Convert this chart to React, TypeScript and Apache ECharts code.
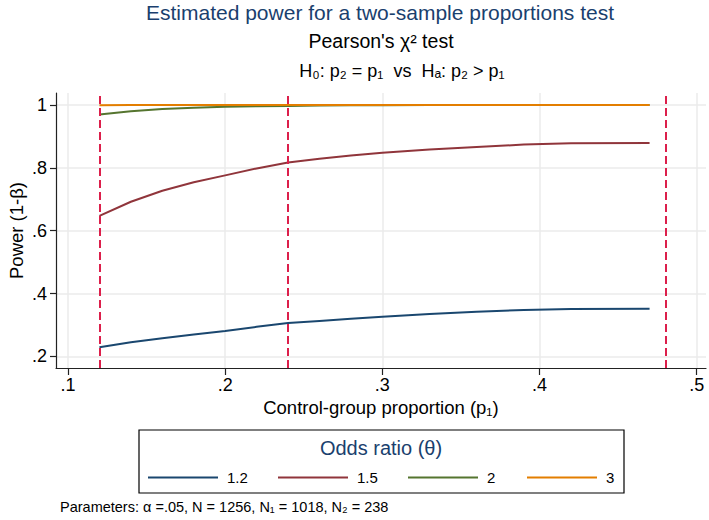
import React, { useEffect, useRef } from "react";
import * as echarts from "echarts";

const pValues = [0.12, 0.14, 0.16, 0.18, 0.2, 0.22, 0.24, 0.26, 0.28, 0.3, 0.33, 0.36, 0.39, 0.42, 0.47];
const power12 = [0.229, 0.245, 0.258, 0.27, 0.281, 0.294, 0.306, 0.313, 0.32, 0.326, 0.335, 0.342, 0.348, 0.351, 0.352];
const power15 = [0.647, 0.692, 0.727, 0.754, 0.776, 0.798, 0.817, 0.829, 0.839, 0.848, 0.858, 0.866, 0.874, 0.878, 0.879];
const power2 = [0.97, 0.98, 0.987, 0.991, 0.994, 0.996, 0.997, 0.998, 0.999, 0.999, 1.0, 1.0, 1.0, 1.0, 1.0];
const power3 = [0.9995, 1.0, 1.0, 1.0, 1.0, 1.0, 1.0, 1.0, 1.0, 1.0, 1.0, 1.0, 1.0, 1.0, 1.0];
const oddsRatios = ["1.2", "1.5", "2", "3"];
const seriesColors = ["#1a476f", "#90353b", "#55752f", "#e37e00"];
const refLines = [0.1193, 0.2385, 0.4768];
const xTicks = [0.1, 0.2, 0.3, 0.4, 0.5];
const yTicks = [0.2, 0.4, 0.6, 0.8, 1];

const FONT = "'Liberation Sans', Arial, Helvetica, sans-serif";

function fmt(v: number): string {
  const s = String(Math.round(v * 10) / 10);
  return s.startsWith("0") ? s.slice(1) : s;
}

export default function App() {
  const ref = useRef<HTMLDivElement>(null);
  useEffect(() => {
    if (!ref.current) return;
    const chart = echarts.init(ref.current, undefined, { renderer: "svg" });
    const allData = [power12, power15, power2, power3];
    const legendLefts = [148, 278, 408, 527];
    const series: any[] = oddsRatios.map((name, i) => ({
      name,
      type: "line",
      symbol: "none",
      data: pValues.map((p, j) => [p, allData[i][j]]),
      itemStyle: { color: seriesColors[i] },
      lineStyle: { color: seriesColors[i], width: 2 },
      z: 3,
    }));
    series.push({
      name: "ref",
      type: "line",
      data: [],
      markLine: {
        silent: true,
        symbol: "none",
        label: { show: false },
        lineStyle: { color: "#dc1f4b", type: [8, 4], width: 2 },
        data: refLines.map((x) => ({ xAxis: x })),
      },
      z: 2,
    });
    chart.setOption({
      animation: false,
      backgroundColor: "#ffffff",
      title: [
        {
          text: "Estimated power for a two-sample proportions test",
          left: 380,
          top: 2,
          padding: 0,
          textAlign: "center",
          textStyle: { fontFamily: FONT, fontSize: 21, fontWeight: "normal", color: "#1a3f6e" },
        },
        {
          text: "Pearson's χ² test",
          left: 381,
          top: 31,
          padding: 0,
          textAlign: "center",
          textStyle: { fontFamily: FONT, fontSize: 19.5, fontWeight: "normal", color: "#000" },
        },
        {
          text: "H₀: p₂ = p₁  vs  Hₐ: p₂ > p₁",
          left: 402,
          top: 62,
          padding: 0,
          textAlign: "center",
          textStyle: { fontFamily: FONT, fontSize: 18, fontWeight: "normal", color: "#000" },
        },
      ],
      legend: oddsRatios.map((name, i) => ({
        data: [name],
        left: legendLefts[i],
        top: 470,
        padding: 0,
        icon: "rect",
        itemWidth: 70,
        itemHeight: 2,
        textStyle: { fontFamily: FONT, fontSize: 15, color: "#000", padding: [0, 0, 0, 4] },
        selectedMode: false,
      })),
      grid: {
        left: 56,
        right: 3,
        top: 93,
        bottom: 520 - 368,
        containLabel: false,
        outerBoundsMode: "none",
      },
      xAxis: {
        type: "value",
        min: 0.09237,
        max: 0.5059,
        name: "Control-group proportion (p₁)",
        nameLocation: "middle",
        nameGap: 30,
        nameMoveOverlap: false,
        nameTextStyle: { fontFamily: FONT, fontSize: 18.5, color: "#000" },
        axisLine: { show: true, onZero: false, lineStyle: { color: "#222", width: 1.2 } },
        axisTick: { show: true, length: 7, customValues: xTicks, lineStyle: { color: "#222", width: 1.2 } },
        axisLabel: {
          customValues: xTicks,
          formatter: (v: number) => fmt(v),
          fontFamily: FONT,
          fontSize: 18,
          color: "#000",
          margin: 8,
        },
        splitLine: { show: true, lineStyle: { color: "#ebebeb", width: 1.5 } },
      },
      yAxis: {
        type: "value",
        min: 0.1631,
        max: 1.0381,
        name: "Power (1-β)",
        nameLocation: "middle",
        nameGap: 30,
        nameMoveOverlap: false,
        nameRotate: 90,
        nameTextStyle: { fontFamily: FONT, fontSize: 18.5, color: "#000" },
        axisLine: { show: true, onZero: false, lineStyle: { color: "#222", width: 1.2 } },
        axisTick: { show: true, length: 6, customValues: yTicks, lineStyle: { color: "#222", width: 1.2 } },
        axisLabel: {
          customValues: yTicks,
          formatter: (v: number) => fmt(v),
          fontFamily: FONT,
          fontSize: 18,
          color: "#000",
          margin: 9,
        },
        splitLine: { show: true, lineStyle: { color: "#ebebeb", width: 1.5 } },
      },
      graphic: [
        {
          type: "rect",
          shape: { x: 139, y: 430, width: 485, height: 63 },
          style: { fill: "none", stroke: "#000", lineWidth: 1.2 },
          silent: true,
        },
        {
          type: "text",
          x: 381,
          y: 448,
          style: {
            text: "Odds ratio (θ)",
            fontFamily: FONT,
            fontSize: 20,
            fill: "#1a3f6e",
            textAlign: "center",
            textVerticalAlign: "middle",
          },
        },
        {
          type: "text",
          x: 60,
          y: 507,
          style: {
            text: "Parameters: α =.05, N = 1256, N₁ = 1018, N₂ = 238",
            fontFamily: FONT,
            fontSize: 14.5,
            fill: "#000",
            textAlign: "left",
            textVerticalAlign: "middle",
          },
        },
      ],
      series,
    });
    return () => chart.dispose();
  }, []);
  return <div ref={ref} style={{ width: 709, height: 520, position: "absolute", left: 0, top: 0 }} />;
}
